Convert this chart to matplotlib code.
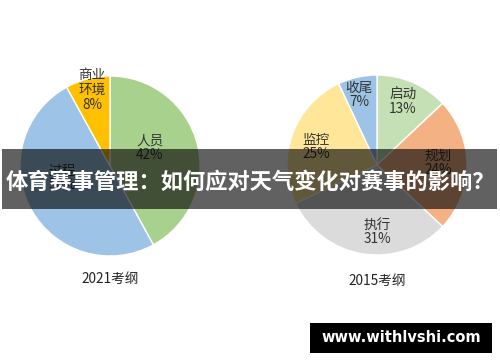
import matplotlib.pyplot as plt
from matplotlib.patches import Rectangle

plt.rcParams['font.family'] = ['Noto Sans CJK SC', 'DejaVu Sans']

# 2021 syllabus
labels_2021 = ["人员", "过程", "商业\n环境"]
values_2021 = [42, 50, 8]
colors_2021 = ["#a9d18e", "#9dc3e6", "#ffc000"]

# 2015 syllabus
labels_2015 = ["启动", "规划", "执行", "监控", "收尾"]
values_2015 = [13, 24, 31, 25, 7]
colors_2015 = ["#c5e0b4", "#f4b183", "#dbdbdb", "#ffe699", "#9dc3e6"]

titles = ["2021考纲", "2015考纲"]
banner = "体育赛事管理：如何应对天气变化对赛事的影响？"
site = "www.withlvshi.com"

fig = plt.figure(figsize=(5, 3.62), dpi=100)
ax = fig.add_axes([0, 0, 1, 1])

# pixel coordinates, y pointing down (so start at -90 and go "counterclock")
wedge = dict(edgecolor="white", linewidth=1.0)
ax.pie(values_2021, colors=colors_2021, center=(110, 166), radius=90,
       startangle=-90, counterclock=True, wedgeprops=wedge)
ax.pie(values_2015, colors=colors_2015, center=(377, 165), radius=90,
       startangle=-90, counterclock=True, wedgeprops=wedge)

ax.set_xlim(0, 500)
ax.set_ylim(362, 0)
ax.set_aspect("equal")
ax.axis("off")

# label spots (pixels)
pos_2021 = [(150, 148), (62, 178), (92, 90)]
pos_2015 = [(403, 102), (438, 163), (377, 232), (316, 147), (359, 95)]
for lab, v, (x, y) in zip(labels_2021, values_2021, pos_2021):
    ax.text(x, y, f"{lab}\n{v}%", ha="center", va="center", fontsize=9.8,
            color="#333333", linespacing=1.05)
for lab, v, (x, y) in zip(labels_2015, values_2015, pos_2015):
    ax.text(x, y, f"{lab}\n{v}%", ha="center", va="center", fontsize=9.8,
            color="#333333", linespacing=1.05)

ax.text(110, 279, titles[0], ha="center", va="center", fontsize=9.8, color="#222222")
ax.text(377, 281, titles[1], ha="center", va="center", fontsize=9.8, color="#222222")

# dark banner with headline
ax.add_patch(Rectangle((2, 149), 495, 60, facecolor="black", alpha=0.62,
                       edgecolor="none", zorder=5))
ax.text(250, 182, banner, ha="center", va="center", fontsize=16,
        fontweight="bold", color="white", zorder=6)

# site tag
ax.add_patch(Rectangle((310, 323), 182, 30, facecolor="black", edgecolor="none", zorder=5))
ax.text(401, 338, site, ha="center", va="center", fontsize=10.5,
        fontweight="bold", color="white", family="DejaVu Sans", zorder=6)

fig.savefig("out.png", dpi=100)
